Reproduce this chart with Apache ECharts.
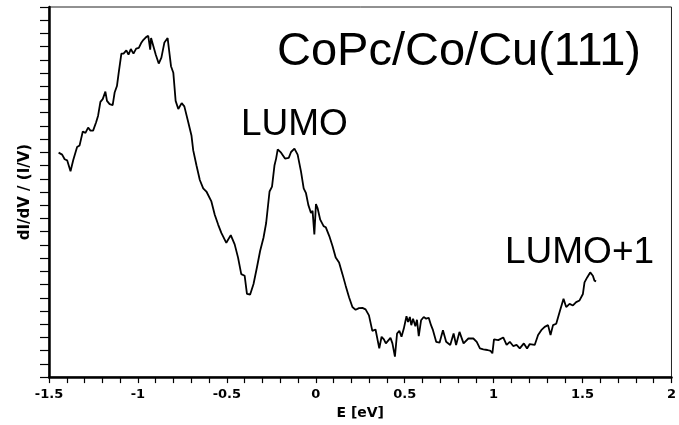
<!DOCTYPE html>
<html>
<head>
<meta charset="utf-8">
<script src="https://cdn.jsdelivr.net/npm/echarts@6/dist/echarts.min.js"></script>
<style>
  html, body { margin: 0; padding: 0; background: #fff; }
  #chart { width: 679px; height: 425px; }
</style>
</head>
<body>
<div id="chart"></div>
<script>
// Bias voltage (eV) of each sampled point of the dI/dV spectrum
const energy = [
  -1.446, -1.426, -1.412, -1.398, -1.388, -1.379, -1.364, -1.342, -1.328, -1.310,
  -1.295, -1.280, -1.267, -1.252, -1.235, -1.224, -1.211, -1.198, -1.183, -1.174,
  -1.159, -1.142, -1.131, -1.118, -1.108, -1.093, -1.081, -1.065, -1.053, -1.040,
  -1.025, -1.010, -0.995, -0.982, -0.973, -0.965, -0.954, -0.942, -0.931, -0.926,
  -0.917, -0.900, -0.883, -0.868, -0.851, -0.833, -0.823, -0.814, -0.801, -0.788,
  -0.773, -0.754, -0.739, -0.717, -0.699, -0.689, -0.671, -0.652, -0.633, -0.615,
  -0.587, -0.568, -0.549, -0.531, -0.503, -0.478, -0.456, -0.437, -0.419, -0.400,
  -0.387, -0.369, -0.350, -0.331, -0.313, -0.294, -0.279, -0.260, -0.246, -0.232,
  -0.223, -0.214, -0.195, -0.173, -0.152, -0.139, -0.120, -0.102, -0.083, -0.068,
  -0.055, -0.042, -0.027, -0.018, -0.008, 0.001, 0.010, 0.025, 0.044, 0.056,
  0.076, 0.094, 0.112, 0.131, 0.150, 0.168, 0.187, 0.206, 0.224, 0.243,
  0.262, 0.280, 0.299, 0.318, 0.336, 0.346, 0.357, 0.370, 0.383, 0.394,
  0.405, 0.420, 0.431, 0.445, 0.457, 0.470, 0.482, 0.495, 0.510, 0.519,
  0.529, 0.537, 0.547, 0.560, 0.569, 0.579, 0.592, 0.607, 0.621, 0.635,
  0.648, 0.659, 0.677, 0.696, 0.715, 0.733, 0.756, 0.775, 0.789, 0.808,
  0.831, 0.858, 0.886, 0.905, 0.923, 0.942, 0.965, 0.983, 0.993, 1.002,
  1.026, 1.054, 1.073, 1.091, 1.110, 1.129, 1.147, 1.170, 1.188, 1.203,
  1.231, 1.250, 1.268, 1.287, 1.306, 1.320, 1.334, 1.352, 1.371, 1.393,
  1.408, 1.427, 1.446, 1.464, 1.483, 1.502, 1.511, 1.526, 1.543, 1.558,
  1.567, 1.576
];

// Normalised differential conductance (arbitrary units)
const didv = [
  16.98, 16.83, 16.48, 16.40, 16.31, 15.58, 16.40, 17.41, 17.53, 18.58,
  18.48, 18.88, 18.65, 18.65, 19.28, 19.78, 20.82, 21.03, 21.60, 20.90,
  20.65, 20.58, 21.53, 22.02, 23.03, 24.47, 24.47, 24.72, 24.40, 24.82,
  24.47, 24.85, 24.90, 25.27, 25.45, 25.32, 25.72, 25.82, 24.77, 25.65,
  25.52, 24.40, 23.72, 24.17, 25.32, 25.65, 25.72, 23.52, 23.03, 20.90,
  20.28, 20.73, 20.48, 19.28, 18.28, 17.15, 16.03, 14.91, 14.28, 14.04,
  13.29, 12.28, 11.54, 10.91, 10.16, 10.74, 10.04, 9.04, 7.79, 7.67,
  6.29, 6.25, 7.04, 8.29, 9.54, 10.54, 11.66, 14.04, 14.41, 16.03,
  16.53, 17.23, 16.98, 16.53, 16.58, 17.03, 17.28, 16.83, 15.54, 14.28,
  13.91, 13.03, 12.41, 12.58, 10.79, 13.09, 12.79, 11.91, 11.42, 11.34,
  10.67, 9.92, 9.04, 8.67, 7.79, 6.92, 6.04, 5.30, 5.09, 5.22,
  5.24, 5.12, 4.67, 3.50, 3.60, 3.50, 2.17, 3.05, 2.85, 2.55,
  2.67, 2.97, 2.55, 1.55, 3.30, 3.50, 3.05, 3.67, 4.60, 4.17,
  4.55, 3.93, 4.42, 3.85, 4.34, 3.10, 4.30, 4.55, 4.42, 4.49,
  3.93, 3.55, 2.67, 2.60, 3.55, 2.67, 2.43, 3.30, 2.43, 3.42,
  2.55, 2.92, 2.92, 2.67, 2.17, 2.10, 2.05, 1.98, 1.80, 2.85,
  2.80, 3.00, 2.43, 2.67, 2.35, 2.43, 2.17, 2.55, 2.17, 2.50,
  2.43, 3.18, 3.55, 3.80, 3.93, 3.18, 3.93, 4.04, 4.92, 5.92,
  5.30, 5.54, 5.42, 5.67, 5.80, 6.29, 7.17, 7.54, 7.92, 7.67,
  7.30, 7.24
];

// Text labels drawn on the plot
const sampleLabel = 'CoPc/Co/Cu(111)';
const peakLabels = ['LUMO', 'LUMO+1'];

const points = energy.map((e, i) => [e, didv[i]]);

const chart = echarts.init(document.getElementById('chart'), null, { renderer: 'canvas' });

const tickFont = {
  fontFamily: 'DejaVu Sans',
  fontWeight: 'bold',
  fontSize: 13,
  color: '#000'
};

chart.setOption({
  animation: false,
  backgroundColor: '#fff',
  grid: {
    left: 49,
    right: 3,
    top: 7,
    bottom: 44,
    show: true,
    borderColor: '#222',
    borderWidth: 1
  },
  xAxis: {
    type: 'value',
    min: -1.5,
    max: 2,
    interval: 0.5,
    name: 'E [eV]',
    nameLocation: 'middle',
    nameGap: 25,
    nameTextStyle: { fontFamily: 'DejaVu Sans', fontWeight: 'bold', fontSize: 14, color: '#000' },
    axisLine: { show: true, onZero: false, lineStyle: { color: '#000', width: 2.5 } },
    axisTick: { show: true, length: 6, lineStyle: { color: '#000', width: 1.2 } },
    minorTick: { show: true, splitNumber: 5, length: 6, lineStyle: { color: '#000', width: 1.2 } },
    axisLabel: Object.assign({ margin: 11 }, tickFont),
    splitLine: { show: false }
  },
  yAxis: {
    type: 'value',
    min: 0,
    max: 28,
    interval: 1,
    name: 'dI/dV / (I/V)',
    nameLocation: 'middle',
    nameGap: 16,
    nameRotate: 90,
    nameTextStyle: { fontFamily: 'DejaVu Sans', fontWeight: 'bold', fontSize: 15, color: '#000' },
    axisLine: { show: true, onZero: false, lineStyle: { color: '#000', width: 2.5 } },
    axisTick: { show: true, length: 9, lineStyle: { color: '#000', width: 1.2 } },
    axisLabel: { show: false },
    splitLine: { show: false }
  },
  series: [{
    type: 'line',
    data: points,
    showSymbol: false,
    symbol: 'none',
    smooth: false,
    lineStyle: { color: '#000', width: 1.8 },
    z: 3
  }],
  graphic: [
    {
      type: 'text',
      left: 277,
      top: 29,
      style: { text: sampleLabel, font: '47px "Liberation Sans", Arial, sans-serif', fill: '#000' }
    },
    {
      type: 'text',
      left: 241,
      top: 106,
      style: { text: peakLabels[0], font: '37px "Liberation Sans", Arial, sans-serif', fill: '#000' }
    },
    {
      type: 'text',
      left: 505,
      top: 234,
      style: { text: peakLabels[1], font: '37px "Liberation Sans", Arial, sans-serif', fill: '#000' }
    }
  ]
});
</script>
</body>
</html>
